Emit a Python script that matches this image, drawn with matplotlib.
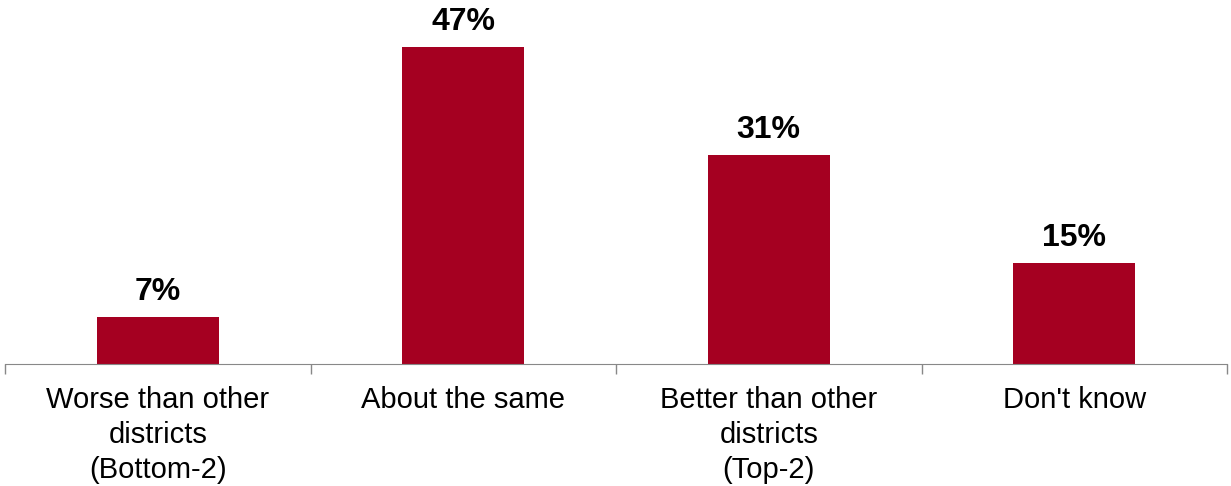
import numpy as np
import matplotlib.pyplot as plt

plt.rcParams['font.family'] = ['Liberation Sans', 'DejaVu Sans']

# data
categories = ['Worse than other\ndistricts\n(Bottom-2)', 'About the same',
              'Better than other\ndistricts\n(Top-2)', "Don't know"]
values = [7, 47, 31, 15]

fig = plt.figure(figsize=(12.31, 4.86), dpi=100)
ax = fig.add_axes([5 / 1231, 122 / 486, 1222 / 1231, 364 / 486])

x = np.arange(len(categories))
bars = ax.bar(x, values, width=0.4, color='#A50021')

for xi, v in zip(x, values):
    ax.annotate(f'{v}%', (xi, v), xytext=(0, 7), textcoords='offset points',
                ha='center', va='bottom', fontsize=23, fontweight='bold')

ax.set_xlim(-0.5, len(categories) - 0.5)
ax.set_ylim(0, 54)
ax.set_xticks(x)
ax.set_xticklabels(categories, fontsize=21, linespacing=1.32)
ax.tick_params(axis='x', which='major', length=0, pad=16)
ax.set_xticks(np.arange(-0.5, len(categories)), minor=True)
ax.tick_params(axis='x', which='minor', length=7.5, color='#888888', width=1)
ax.set_yticks([])
for s in ['top', 'right', 'left']:
    ax.spines[s].set_visible(False)
ax.spines['bottom'].set_color('#888888')

fig.savefig('out.png', dpi=100)
